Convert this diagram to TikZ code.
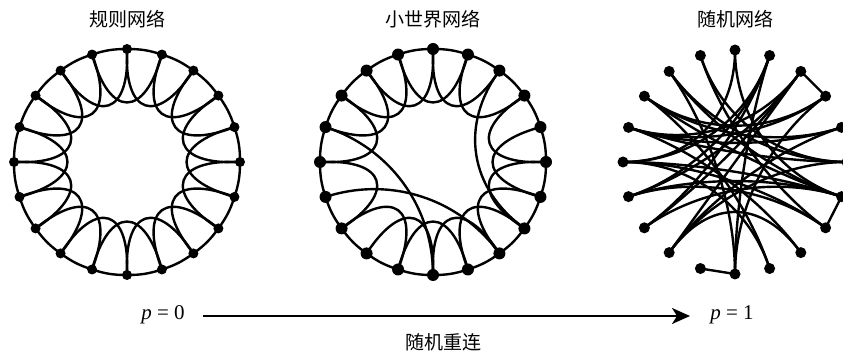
\documentclass[tikz,border=0pt]{standalone}
\usepackage{fontspec}
\setmainfont{Liberation Serif}
\newfontfamily\cjk{Noto Sans CJK SC}
\usetikzlibrary{arrows.meta}
\pgfdeclarelayer{bg}\pgfsetlayers{bg,main}
\begin{document}
\begin{tikzpicture}[x=1pt,y=1pt,
  dotL/.style={circle,fill=black,inner sep=0pt,minimum size=10pt},
  dotM/.style={circle,fill=black,inner sep=0pt,minimum size=12pt},
  dotR/.style={circle,fill=black,inner sep=0pt,minimum size=11pt},
  edge/.style={line width=2.4pt,line cap=round},
  title/.style={font=\cjk\fontsize{19}{22}\selectfont},
  plab/.style={font=\fontsize{21}{24}\selectfont}]
\useasboundingbox (0,0) rectangle (843,356);

% ---------- nodes ----------
\begin{scope}[shift={(127,194)}]
  \foreach \a in {0,...,19} \node[dotL] (L\a) at ({18*\a}:113) {};
\end{scope}
\begin{scope}[shift={(433,194)}]
  \foreach \a in {0,...,19} \node[dotM] (M\a) at ({18*\a}:113) {};
\end{scope}
\begin{scope}[shift={(735,194)}]
  \foreach \a in {0,...,19} \node[dotR] (R\a) at ({18*\a}:112) {};
\end{scope}

% ---------- edges ----------
\begin{pgfonlayer}{bg}
\begin{scope}[shift={(127,194)}]
  \foreach \a in {0,...,19}{
    \pgfmathtruncatemacro\b{mod(\a+1,20)}
    \pgfmathtruncatemacro\c{mod(\a+2,20)}
    \draw[edge] (L\a.center) to[bend right=9] (L\b.center);
    \draw[edge] (L\a.center) .. controls ({18*\a-4}:47) and ({18*\a+40}:47) .. (L\c.center);
  }
\end{scope}
\begin{scope}[shift={(433,194)}]
  \foreach \a in {0,...,19}{
    \pgfmathtruncatemacro\b{mod(\a+1,20)}
    \draw[edge] (M\a.center) to[bend right=9] (M\b.center);
  }
  \foreach \a in {0,2,3,4,5,6,7,8,10,12,13,14,15,16,17,18,19}{
    \pgfmathtruncatemacro\c{mod(\a+2,20)}
    \draw[edge] (M\a.center) .. controls ({18*\a-4}:47) and ({18*\a+40}:47) .. (M\c.center);
  }
  \foreach \a/\c in {9/15,11/17,3/18}{
    \draw[edge] (M\a.center) .. controls ({18*\a}:45) and ({18*\c}:45) .. (M\c.center);
  }
\end{scope}
\begin{scope}[shift={(735,194)}]
  \foreach \a/\c in {3/2,19/18,14/15}{
    \draw[edge] (R\a.center) -- (R\c.center);
  }
  \foreach \a/\c in {5/10,5/19,4/11,4/12,4/10,3/13,2/8,2/9,2/15,1/9,1/8,1/13,
                     0/9,0/13,0/7,19/11,19/7,18/6,17/9,16/10,16/8,15/4,15/7,13/17,
                     12/3,12/19,11/3,10/19,9/3,8/19,6/0,11/18,10/18}{
    \draw[edge] (R\a.center) .. controls ({18*\a}:45) and ({18*\c}:45) .. (R\c.center);
  }
\end{scope}
\end{pgfonlayer}

% ---------- labels ----------
\node[title] (t1) at (127,337) {规则网络};
\node[title] (t2) at (433,337) {小世界网络};
\node[title] (t3) at (735,337) {随机网络};

\node[plab] (p0) at (163,41) {\textit{p} = 0};
\node[plab] (p1) at (732,41) {\textit{p} = 1};
\coordinate (as) at (203,40);
\coordinate (ae) at (690,40);
\draw[line width=2.2pt,-{Stealth[length=18pt,width=16pt,inset=5pt]}] (as) -- (ae);
\node[title] (rw) at (443,14) {随机重连};
\end{tikzpicture}
\end{document}
